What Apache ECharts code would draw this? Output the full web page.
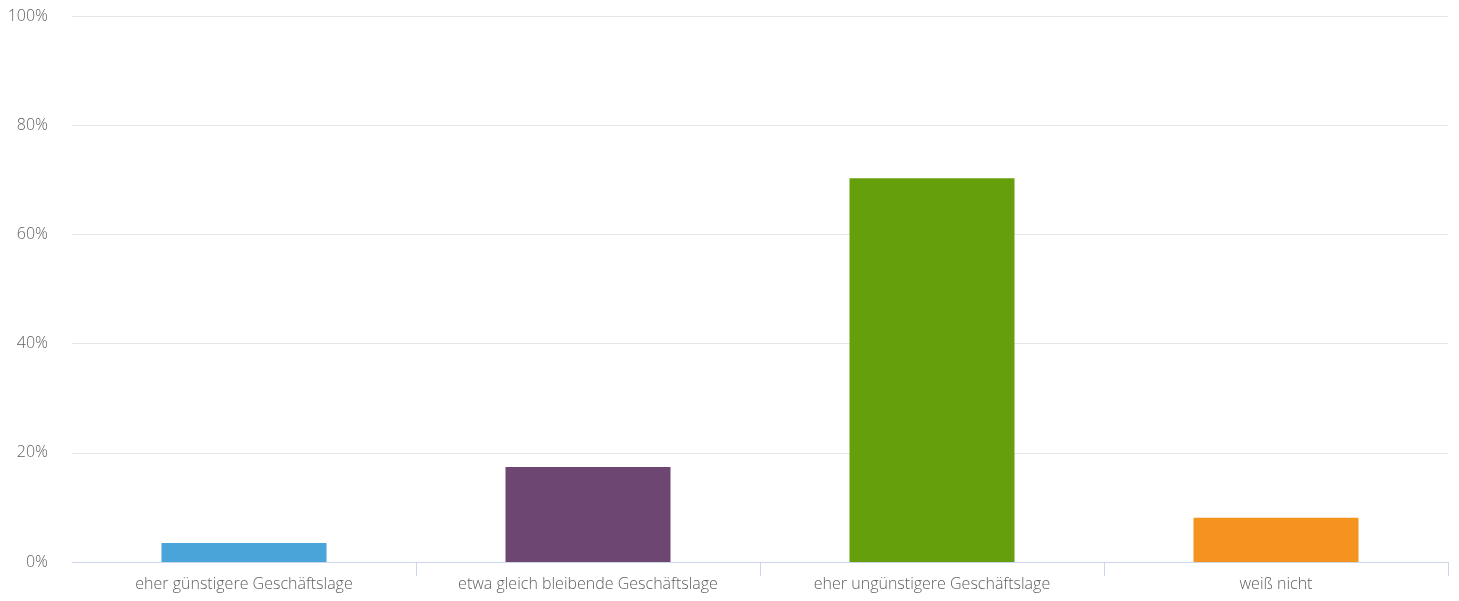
<!DOCTYPE html>
<html>
<head>
<meta charset="utf-8">
<script src="https://cdn.jsdelivr.net/npm/echarts@6/dist/echarts.min.js"></script>
<style>
  html, body { margin: 0; padding: 0; background: #ffffff; }
  #chart { width: 1459px; height: 601px; }
</style>
</head>
<body>
<div id="chart"></div>
<script>
// Einschätzung der künftigen Geschäftslage (Anteile in Prozent)
const categories = [
  'eher günstigere Geschäftslage',
  'etwa gleich bleibende Geschäftslage',
  'eher ungünstigere Geschäftslage',
  'weiß nicht'
];
const shares = [3.5, 17.4, 70.3, 8.1];
const barColors = ['#49a4da', '#6d4672', '#659f0b', '#f59321'];
const yTicks = [0, 20, 40, 60, 80, 100];

const chart = echarts.init(document.getElementById('chart'), null, { renderer: 'canvas' });

const labelFont = { fontFamily: '"Open Sans", sans-serif', fontSize: 16, fontWeight: 300, color: '#5f5f5f' };

chart.setOption({
  animation: false,
  grid: { left: 72, right: 11, top: 16, bottom: 39, containLabel: false },
  xAxis: {
    type: 'category',
    data: categories,
    boundaryGap: true,
    axisLine: { show: true, lineStyle: { color: '#ccd6eb', width: 1 } },
    // separator ticks between categories and at the right end, none at the left edge
    axisTick: { show: true, length: 14, interval: (i) => i > 0, lineStyle: { color: '#ccd6eb' } },
    axisLabel: Object.assign({ margin: 14, interval: 0 }, labelFont),
    splitLine: { show: false }
  },
  yAxis: {
    type: 'value',
    min: yTicks[0],
    max: yTicks[yTicks.length - 1],
    interval: yTicks[1] - yTicks[0],
    axisLine: { show: false },
    axisTick: { show: false },
    axisLabel: Object.assign({ margin: 24, formatter: v => v + '%' }, labelFont),
    splitLine: { show: true, lineStyle: { color: '#e6e6e6', width: 1 } }
  },
  series: [{
    type: 'bar',
    barWidth: 165,
    data: shares.map((v, i) => ({
      value: v,
      itemStyle: { color: barColors[i] }
    })),
    z: 3
  }]
});
</script>
</body>
</html>
